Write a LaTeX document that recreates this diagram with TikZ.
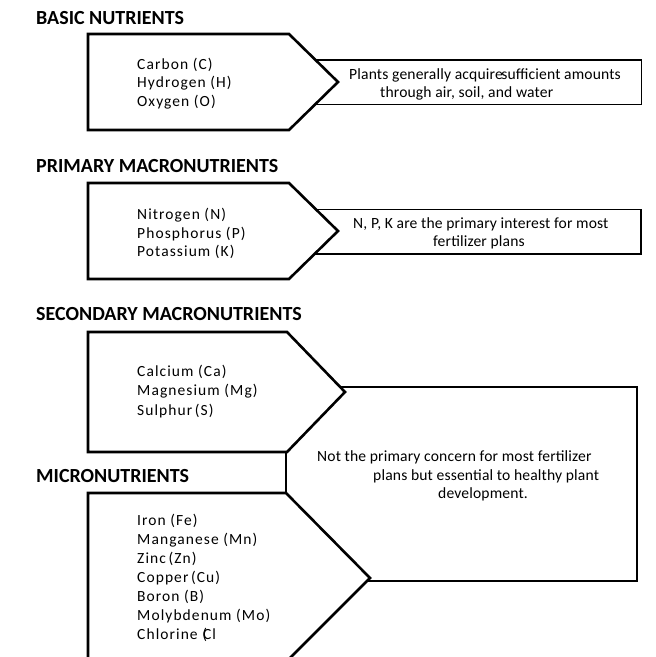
\documentclass[tikz,border=0pt]{standalone}
\usepackage{fontspec}
\setmainfont{Carlito}
\newfontfamily\listfam[LetterSpace=7]{Carlito}
\newfontfamily\notefam[LetterSpace=1]{Carlito}
\newcommand{\headfont}{\fontsize{20}{22}\bfseries\selectfont}
\newcommand{\listfont}{\listfam\fontsize{15.5}{19}\selectfont}
\newcommand{\notefont}{\notefam\fontsize{15.6}{18}\selectfont}
\begin{document}
\begin{tikzpicture}[x=1pt,y=-1pt,
  pent/.style={draw, line width=2.6pt, fill=white, line join=miter},
  notebox/.style={draw, line width=1.8pt},
  head/.style={anchor=base west, inner sep=0pt, font=\headfont},
  item/.style={anchor=base west, inner sep=0pt, font=\listfont},
  rtxt/.style={anchor=base west, inner sep=0pt, font=\notefont}]
\useasboundingbox (0,0) rectangle (656,657);

% note boxes (behind the pentagons)
\draw[notebox] (300,60) rectangle (641.5,104.5);
\draw[notebox] (300,209.5) rectangle (641,254);
\draw[notebox] (286,387) rectangle (637,581);

% pentagons
\draw[pent] (88,34) -- (289,34) -- (338,82) -- (289,130) -- (88,130) -- cycle;
\draw[pent] (88,183) -- (289,183) -- (338,231) -- (289,279) -- (88,279) -- cycle;
\draw[pent] (88,332) -- (287,332) -- (345,392) -- (287,452) -- (88,452) -- cycle;
\draw[pent] (88,667) -- (88,493) -- (286,493) -- (370,578) -- (280,668);

% headings
\node[head] (h1) at (36,24) {BASIC NUTRIENTS};
\node[head] (h2) at (36,172.7) {PRIMARY MACRONUTRIENTS};
\node[head] (h3) at (36,320) {SECONDARY MACRONUTRIENTS};
\node[head] (h4) at (36,482.7) {MICRONUTRIENTS};

% lists
\node[item] (b1) at (137,69) {Carbon (C)};
\node[item] (b2) at (137,87.5) {Hydrogen (H)};
\node[item] (b3) at (137,106) {Oxygen (O)};

\node[item] (p1) at (137,219.3) {Nitrogen (N)};
\node[item] (p2) at (137,238) {Phosphorus (P)};
\node[item] (p3) at (137,256.7) {Potassium (K)};

\node[item] (s1) at (137,376.7) {Calcium (Ca)};
\node[item] (s2) at (137,395.8) {Magnesium (Mg)};
\node[item] (s3) at (137,415) {Sulphur\kern-2pt\ (S)};

\node[item] (m1) at (137,525) {Iron (Fe)};
\node[item] (m2) at (137,544) {Manganese (Mn)};
\node[item] (m3) at (137,563) {Zinc\kern-2pt\ (Zn)};
\node[item] (m4) at (137,582.2) {Copper\kern-2pt\ (Cu)};
\node[item] (m5) at (137,601.2) {Boron (B)};
\node[item] (m6) at (137,620.3) {Molybdenum (Mo)};
\node[item] (m7) at (137,639.3) {Chlorine (\kern-0.25em Cl};

% notes
\node[rtxt] (n1a) at (349,79) {Plants generally acquire\kern-1.5pt sufficient amounts};
\node[rtxt] (n1b) at (380,97) {through air, soil, and water};

\node[rtxt] (n2a) at (353,228.5) {N, P, K are the primary interest for most};
\node[rtxt] (n2b) at (433,246.5) {fertilizer plans};

\node[rtxt] (n3a) at (317,461) {Not the primary concern for most fertilizer};
\node[rtxt] (n3b) at (373,480) {plans but essential to healthy plant};
\node[rtxt] (n3c) at (438,498) {development.};
\end{tikzpicture}
\end{document}
